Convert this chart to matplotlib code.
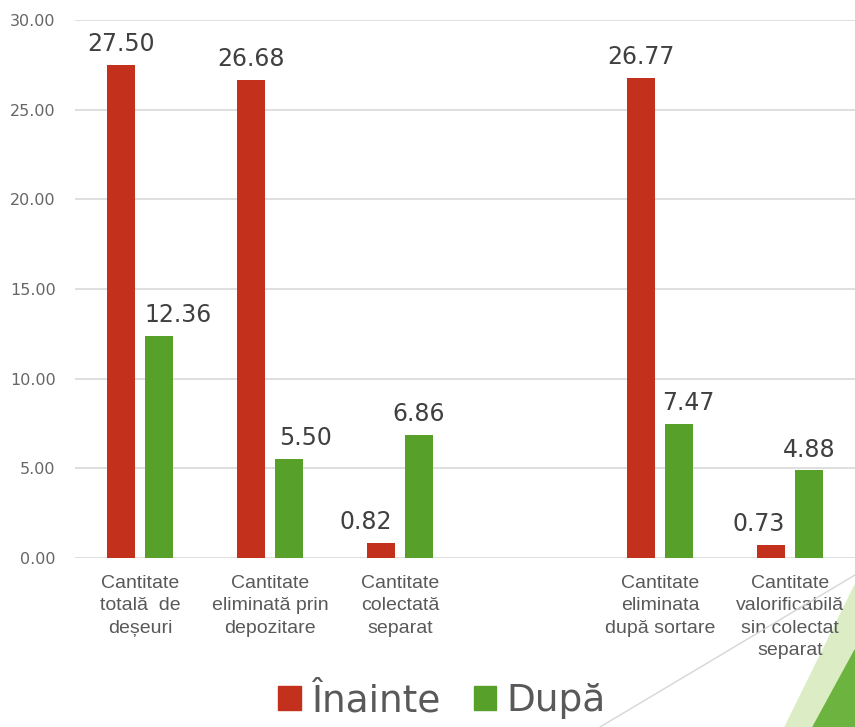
import matplotlib.pyplot as plt
import numpy as np
from matplotlib.patches import Patch, Polygon
from matplotlib.lines import Line2D

# data
categories = ["Cantitate\ntotală  de\ndeșeuri",
              "Cantitate\neliminată prin\ndepozitare",
              "Cantitate\ncolectată\nseparat",
              "",
              "Cantitate\neliminata\ndupă sortare",
              "Cantitate\nvalorificabilă\nsin colectat\nseparat"]
inainte = [27.50, 26.68, 0.82, np.nan, 26.77, 0.73]
dupa = [12.36, 5.50, 6.86, np.nan, 7.47, 4.88]
series_names = ["Înainte", "După"]

red = "#C3301B"
green = "#57A12A"
grey = "#595959"

# manual horizontal nudges of the value labels (points)
dx_red = [0, 0, -11, 0, 0, -9]
dx_green = [14, 12, 0, 0, 7, 0]

fig = plt.figure(figsize=(8.55, 7.27), dpi=100)
ax = fig.add_axes([75 / 855, 1 - 558 / 727, 780 / 855, 538 / 727])

x = np.arange(len(categories))
w = 0.22
off = 0.145
ax.bar(x - off, inainte, w, color=red, zorder=3)
ax.bar(x + off, dupa, w, color=green, zorder=3)

for xi, v, d in zip(x - off, inainte, dx_red):
    if not np.isnan(v):
        ax.annotate(f"{v:.2f}", (xi, v), xytext=(d, 10), textcoords="offset points",
                    ha="center", va="baseline", fontsize=17, color="#404040")
for xi, v, d in zip(x + off, dupa, dx_green):
    if not np.isnan(v):
        ax.annotate(f"{v:.2f}", (xi, v), xytext=(d, 10), textcoords="offset points",
                    ha="center", va="baseline", fontsize=17, color="#404040")

ax.set_xlim(-0.5, len(categories) - 0.5)
ax.set_ylim(0, 30)
ax.set_yticks(np.arange(0, 31, 5))
ax.set_yticklabels([f"{t:.2f}" for t in np.arange(0, 31, 5)], fontsize=11.5, color="#666666")
ax.set_xticks(x)
ax.set_xticklabels(categories, fontsize=14, color=grey, family="Liberation Sans",
                   linespacing=1.43)
ax.tick_params(axis="both", length=0)
ax.tick_params(axis="y", pad=14)
ax.tick_params(axis="x", pad=12)
ax.grid(axis="y", color="#D9D9D9", linewidth=1.2, zorder=0)
for s in ax.spines.values():
    s.set_visible(False)

handles = [Patch(color=red), Patch(color=green)]
leg = fig.legend(handles, series_names, loc="center", bbox_to_anchor=(442 / 855, 1 - 701 / 727),
                 ncol=2, frameon=False, fontsize=27, handlelength=0.6, handleheight=0.6,
                 handletextpad=0.27, columnspacing=0.9)
for t in leg.get_texts():
    t.set_color(grey)

# slide decoration in the lower right corner
def px(xp, yp):
    return (xp / 855, 1 - yp / 727)

fig.add_artist(Line2D([600 / 855, 1], [0, 1 - 575 / 727], color="#D6D6D6", lw=1,
                      transform=fig.transFigure))
fig.add_artist(Polygon([px(855, 585), px(785, 727), px(855, 727)], closed=True,
                       color="#DCEDC6", transform=fig.transFigure, zorder=0))
fig.add_artist(Polygon([px(855, 650), px(813, 727), px(855, 727)], closed=True,
                       color="#6DB33F", transform=fig.transFigure, zorder=0))

fig.savefig("out.png", dpi=100)
